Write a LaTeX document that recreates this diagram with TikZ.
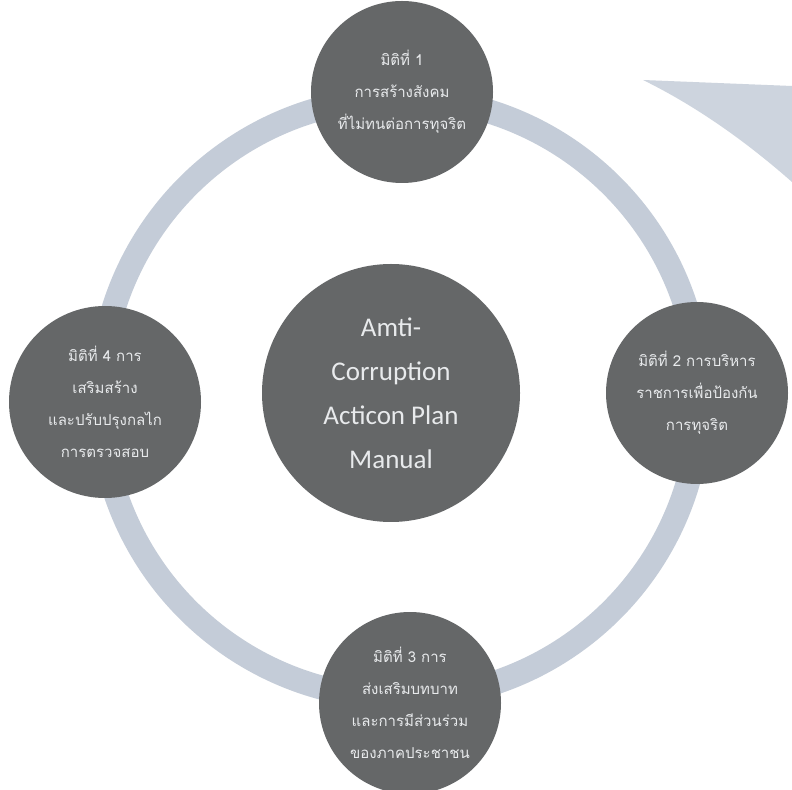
\documentclass[tikz,border=0pt]{standalone}
\usepackage{fontspec}
\setmainfont{Carlito}
\newfontfamily\thaifont[Script=Thai]{Loma}
\definecolor{discgray}{HTML}{656768}
\definecolor{ringblue}{HTML}{C4CCD8}
\definecolor{textwhite}{HTML}{E8EAEC}
\tikzset{
  disc/.style={circle, fill=discgray, inner sep=0pt, text=textwhite, align=center},
  hub/.style={disc, minimum size=129pt, font=\fontsize{13.5}{22}\selectfont},
  satellite/.style={disc, minimum size=91pt, font=\thaifont\fontsize{7.5}{16}\selectfont}
}
\begin{document}
\begin{tikzpicture}[x=0.5pt,y=-0.5pt]
      \useasboundingbox (0,0) rectangle (792,790);
      \fill[white] (0,0) rectangle (792,790);
      \fill[ringblue!85] (643,80) -- (792,86) -- (792,182)
        .. controls (750,145) and (700,108) .. cycle;
      \coordinate (o) at (400,398);
      \draw[ringblue, line width=12pt] (o) circle (150pt);
      \draw
        (391,393) node[hub] (c){Amti-\\Corruption\\Acticon Plan\\Manual}
        (402,92) node[satellite] (1){มิติที่ 1\\การสร้างสังคม\\ที่ไม่ทนต่อการทุจริต}
        (697,393) node[satellite] (2){มิติที่ 2 การบริหาร\\ราชการเพื่อป้องกัน\\การทุจริต}
        (410,703) node[satellite] (3){มิติที่ 3 การ\\ส่งเสริมบทบาท\\และการมีส่วนร่วม\\ของภาคประชาชน}
        (105,402) node[satellite, minimum size=96pt] (4){มิติที่ 4 การ\\เสริมสร้าง\\และปรับปรุงกลไก\\การตรวจสอบ};
    \end{tikzpicture}
\end{document}
